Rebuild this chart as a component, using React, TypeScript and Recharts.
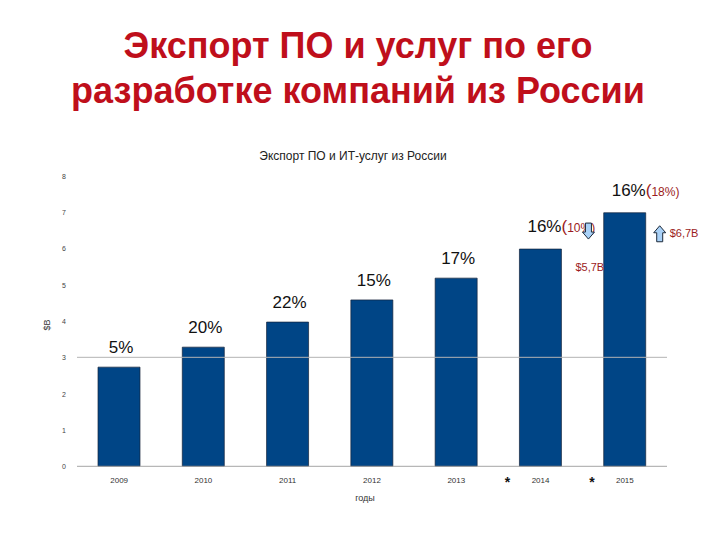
import { BarChart, Bar, XAxis, YAxis, ReferenceLine, LabelList, Label } from "recharts";

const years = ["2009", "2010", "2011", "2012", "2013", "2014", "2015"];
const exportBn = [2.73, 3.28, 3.97, 4.58, 5.18, 5.98, 6.98];
const growth = ["5%", "20%", "22%", "15%", "17%", "16%", "16%"];
const forecastGrowth = ["", "", "", "", "", "10%", "18%"];
const forecastValue = ["", "", "", "", "", "$5,7B", "$6,7B"];
const forecastTrend = ["", "", "", "", "", "down", "up"];
const starred = [false, false, false, false, false, true, true];
const yTicks = [0, 1, 2, 3, 4, 5, 6, 7, 8];
const gridAt = 3;

const data = years.map((y, i) => ({ year: y, value: exportBn[i] }));

const FONT = "'Liberation Sans', Arial, sans-serif";
const RED = "#9b1b22";
const BAR = "#004586";

function Arrow({ cx, cy, dir }: { cx: number; cy: number; dir: string }) {
  const s = dir === "up" ? -1 : 1;
  const d = `M${cx - 3},${cy - 8 * s} L${cx + 3},${cy - 8 * s} L${cx + 3},${cy + 1 * s} L${cx + 6},${cy + 1 * s} L${cx},${cy + 8 * s} L${cx - 6},${cy + 1 * s} L${cx - 3},${cy + 1 * s} Z`;
  return <path d={d} fill="#a9d1f7" stroke="#1d2a3a" strokeWidth={1} />;
}

function GrowthLabel(props: any) {
  const { x, y, width, index } = props;
  const fg = forecastGrowth[index];
  if (!fg) {
    return (
      <text x={x + width / 2 + 2} y={y - 14} textAnchor="middle" fontSize={17} fill="#111" fontFamily={FONT}>
        {growth[index]}
      </text>
    );
  }
  const dir = forecastTrend[index];
  const right = x + width;
  return (
    <g fontFamily={FONT}>
      <text x={x + 8} y={y - 17} fontSize={17} fill="#111">
        {growth[index]}
        <tspan fill={RED}>(</tspan>
        <tspan fill={RED} fontSize={12}>{fg})</tspan>
      </text>
      {dir === "down" ? (
        <>
          <Arrow cx={right + 27} cy={y - 18} dir="down" />
          <text x={right + 14} y={y + 22} fontSize={11} fill={RED}>{forecastValue[index]}</text>
        </>
      ) : (
        <>
          <Arrow cx={right + 14} cy={y + 21} dir="up" />
          <text x={right + 24} y={y + 24} fontSize={11} fill={RED}>{forecastValue[index]}</text>
        </>
      )}
    </g>
  );
}

function XTick(props: any) {
  const { x, y, payload, index } = props;
  return (
    <g fontFamily={FONT}>
      <text x={x} y={y + 15} textAnchor="middle" fontSize={8} fill="#333">{payload.value}</text>
      {starred[index] && (
        <text x={x - 33} y={y + 19} textAnchor="middle" fontSize={14} fontWeight="bold" fill="#111">*</text>
      )}
    </g>
  );
}

function YTick(props: any) {
  const { x, y, payload } = props;
  return (
    <text x={x - 11} y={y + 3} textAnchor="middle" fontSize={7} fill="#444" fontFamily={FONT}>
      {payload.value}
    </text>
  );
}

export default function App() {
  return (
    <div style={{ position: "absolute", left: 0, top: 0, width: 720, height: 540, background: "#fff", fontFamily: FONT }}>
      <div
        style={{
          position: "absolute", left: 0, top: 23, width: 716, textAlign: "center",
          color: "#bf0f1b", fontWeight: "bold", fontSize: 36, lineHeight: "45px",
        }}
      >
        Экспорт ПО и услуг по его
        <br />
        разработке компаний из России
      </div>
      <div style={{ position: "absolute", left: 0, top: 149, width: 706, textAlign: "center", fontSize: 12, color: "#222" }}>
        Экспорт ПО и ИТ-услуг из России
      </div>
      <div style={{ position: "absolute", left: 0, top: 0 }}>
        <BarChart width={720} height={540} data={data} margin={{ top: 175.7, right: 53, bottom: 43.7, left: 0 }}>
          <ReferenceLine y={gridAt} stroke="#b3b3b3" strokeWidth={1} />
          <XAxis
            dataKey="year"
            tickSize={0}
            tickLine={false}
            axisLine={{ stroke: "#a6a6a6" }}
            tick={<XTick />}
            interval={0}
            height={30}
          >
            <Label
              content={(p: any) => (
                <text x={p.viewBox.x + p.viewBox.width / 2 - 7} y={p.viewBox.y + 35} textAnchor="middle" fontSize={9} fill="#333" fontFamily={FONT}>
                  годы
                </text>
              )}
            />
          </XAxis>
          <YAxis
            width={77}
            domain={[0, 8]}
            ticks={yTicks}
            tickSize={0}
            tickLine={false}
            axisLine={false}
            tick={<YTick />}
            interval={0}
          >
            <Label
              content={() => (
                <text x={50} y={325} transform="rotate(-90 50 325)" textAnchor="middle" fontSize={9} fill="#333" fontFamily={FONT}>
                  $B
                </text>
              )}
            />
          </YAxis>
          <Bar dataKey="value" fill={BAR} stroke="#14233a" strokeWidth={0.7} barSize={42} isAnimationActive={false}>
            <LabelList dataKey="value" content={<GrowthLabel />} />
          </Bar>
        </BarChart>
      </div>
    </div>
  );
}
